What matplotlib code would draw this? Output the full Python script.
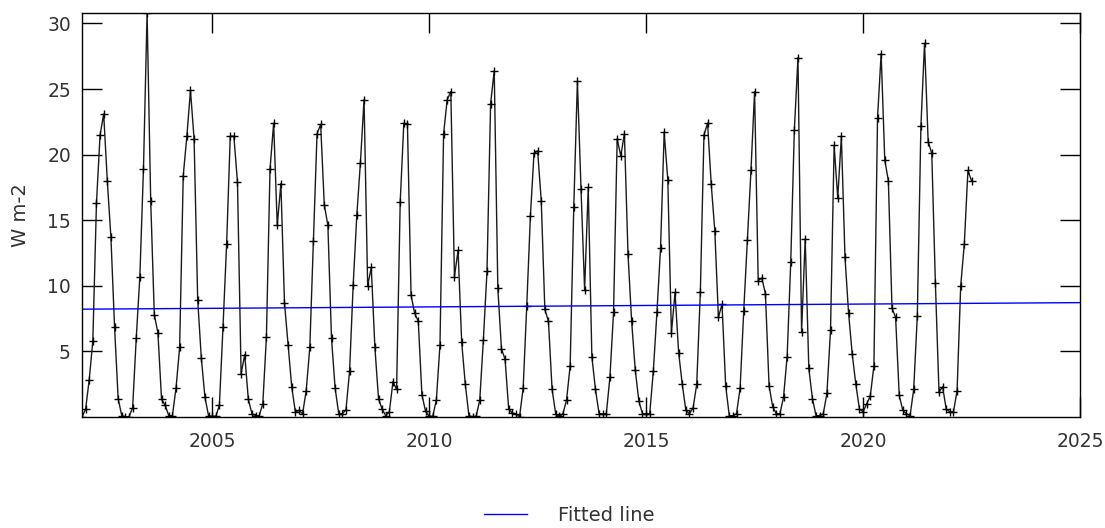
import numpy as np
import matplotlib
matplotlib.use("Agg")
import matplotlib.pyplot as plt

# monthly values from Jan 2002, W m-2
flux = [
    0.0, 0.6, 2.85, 5.8, 16.3, 21.5, 23.1, 18.0, 13.7, 6.9, 1.4, 0.1,
    0.02, 0.02, 0.7, 6.0, 10.7, 18.9, 30.8, 16.5, 7.8, 6.4, 1.35, 0.9,
    0.1, 0.1, 2.2, 5.3, 18.4, 21.4, 24.9, 21.2, 8.9, 4.5, 1.5, 0.1,
    0.05, 0.05, 0.9, 6.9, 13.2, 21.4, 21.4, 17.9, 3.3, 4.75, 1.35, 0.25,
    0.1, 0.1, 1.0, 6.1, 18.9, 22.4, 14.6, 17.8, 8.7, 5.5, 2.3, 0.4,
    0.5, 0.25, 2.0, 5.3, 13.4, 21.6, 22.3, 16.2, 14.6, 6.0, 2.2, 0.25,
    0.25, 0.55, 3.5, 10.1, 15.4, 19.4, 24.2, 10.0, 11.4, 5.3, 1.4, 0.6,
    0.1, 0.4, 2.7, 2.1, 16.4, 22.4, 22.3, 9.3, 7.9, 7.3, 1.7, 0.45,
    0.05, 0.05, 1.3, 5.5, 21.6, 24.2, 24.8, 10.7, 12.7, 5.7, 2.5, 0.1,
    0.02, 0.05, 1.3, 5.9, 11.1, 23.9, 26.4, 9.8, 5.2, 4.4, 0.6, 0.3,
    0.25, 0.02, 2.2, 8.5, 15.3, 20.1, 20.3, 16.5, 8.2, 7.3, 2.1, 0.25,
    0.05, 0.25, 1.3, 3.9, 16.0, 25.6, 17.4, 9.7, 17.5, 4.6, 2.1, 0.25,
    0.25, 0.25, 3.05, 8.0, 21.2, 19.9, 21.6, 12.4, 7.3, 3.6, 1.2, 0.25,
    0.25, 0.25, 3.5, 8.0, 12.9, 21.7, 18.1, 6.4, 9.5, 4.9, 2.5, 0.5,
    0.25, 0.7, 2.5, 9.5, 21.5, 22.4, 17.8, 14.2, 7.6, 8.6, 2.4, 0.1,
    0.1, 0.25, 2.2, 8.1, 13.5, 18.8, 24.8, 10.4, 10.6, 9.4, 2.4, 0.8,
    0.25, 0.25, 1.5, 4.6, 11.8, 21.9, 27.4, 6.5, 13.6, 3.7, 1.4, 0.1,
    0.1, 0.25, 1.8, 6.6, 20.7, 16.7, 21.4, 12.2, 7.9, 4.8, 2.5, 0.6,
    0.4, 1.0, 1.6, 3.9, 22.8, 27.7, 19.6, 18.0, 8.3, 7.6, 1.65, 0.5,
    0.25, 0.1, 2.1, 7.7, 22.2, 28.5, 21.0, 20.1, 10.2, 1.9, 2.3, 0.6,
    0.4, 0.4, 2.0, 10.0, 13.2, 18.8, 18.0,
]
start_year = 2002
fit_years = [2002, 2025]
fit_values = [8.22, 8.72]

time = start_year + np.arange(len(flux)) / 12.0

fig = plt.figure(figsize=(11.05, 5.28), dpi=100)
ax = fig.add_axes((0.0742, 0.2102, 0.9032, 0.7652))

ax.plot(time, flux, color='#1a1a1a', linewidth=1.0, marker='+', markersize=6,
        markeredgewidth=1.0, markeredgecolor='k')
fit_line, = ax.plot(fit_years, fit_values, color='blue', linewidth=1.0,
                    label='Fitted line')

ax.set_xlim(2002, 2025)
ax.set_ylim(min(flux), max(flux))
ax.set_xticks([2005, 2010, 2015, 2020, 2025])
ax.set_yticks([5, 10, 15, 20, 25, 30])
ax.tick_params(direction='in', length=14.5, width=1.0, top=True, right=True,
               labelsize=13.5, labelcolor='#333333', pad=8)
ax.tick_params(axis='x', pad=11)
for s in ax.spines.values():
    s.set_linewidth(1.0)
ax.set_ylabel('W m-2', fontsize=14, color='#333333', labelpad=12)

fig.legend(handles=[fit_line], loc='lower center', bbox_to_anchor=(0.515, -0.028),
           frameon=False, fontsize=14, handlelength=2.2, handletextpad=1.6,
           labelcolor='#333333')

fig.savefig('out.png', dpi=100)
